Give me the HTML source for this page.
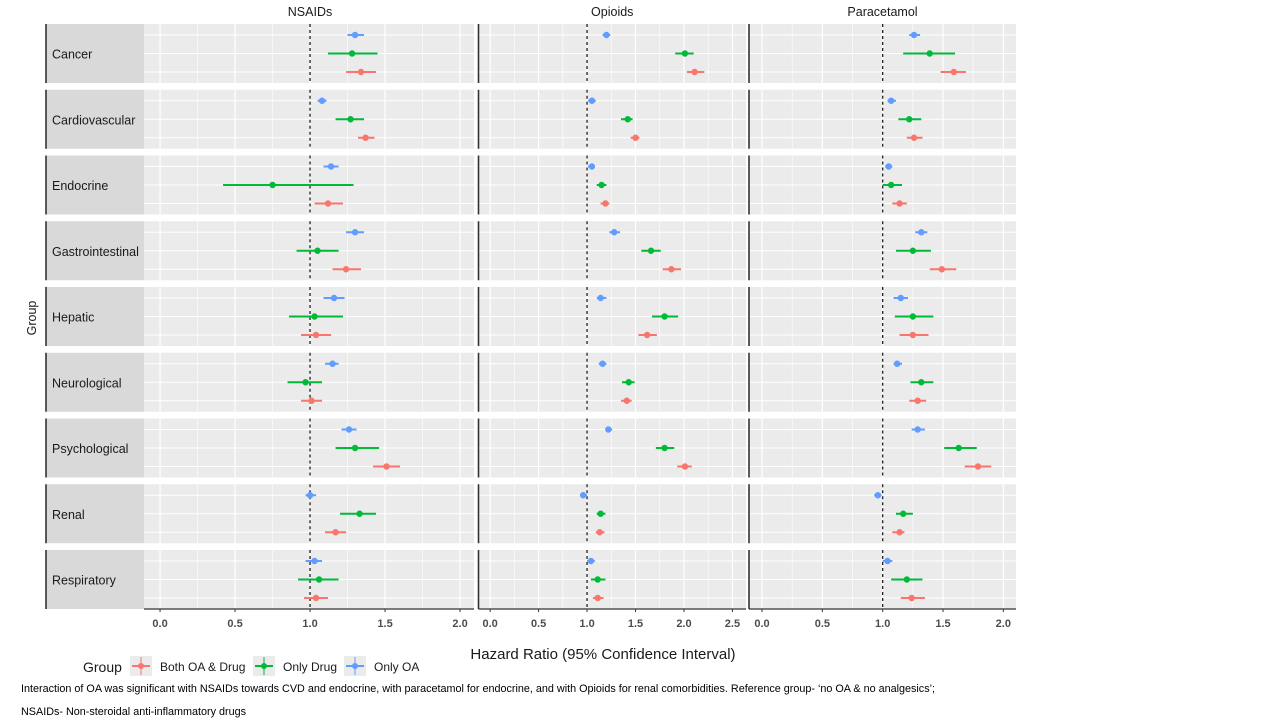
<!DOCTYPE html>
<html><head><meta charset="utf-8"><style>
html,body{margin:0;padding:0;background:#fff;}
svg{display:block;font-family:"Liberation Sans",Arial,sans-serif;}
</style></head><body>
<svg id="chart" width="1280" height="720" viewBox="0 0 1280 720" xmlns="http://www.w3.org/2000/svg"></svg>
<script>
const conditions = ["Cancer","Cardiovascular","Endocrine","Gastrointestinal","Hepatic","Neurological","Psychological","Renal","Respiratory"];
const drugs = ["NSAIDs","Opioids","Paracetamol"];
const groups = ["Only OA","Only Drug","Both OA & Drug"];
const groupColors = ["#619CFF","#00BA38","#F8766D"];
// [est, lo, hi] per condition for each group (Only OA, Only Drug, Both)
const nsaidsOnlyOA = [[1.30,1.25,1.36],[1.08,1.05,1.11],[1.14,1.09,1.19],[1.30,1.24,1.36],[1.16,1.09,1.23],[1.15,1.10,1.19],[1.26,1.21,1.31],[1.00,0.97,1.04],[1.03,0.97,1.08]];
const nsaidsOnlyDrug = [[1.28,1.12,1.45],[1.27,1.17,1.36],[0.75,0.42,1.29],[1.05,0.91,1.19],[1.03,0.86,1.22],[0.97,0.85,1.08],[1.30,1.17,1.46],[1.33,1.20,1.44],[1.06,0.92,1.19]];
const nsaidsBoth = [[1.34,1.24,1.44],[1.37,1.32,1.43],[1.12,1.03,1.22],[1.24,1.15,1.34],[1.04,0.94,1.14],[1.01,0.94,1.08],[1.51,1.42,1.60],[1.17,1.10,1.24],[1.04,0.96,1.12]];
const opioidsOnlyOA = [[1.20,1.16,1.24],[1.05,1.01,1.09],[1.05,1.01,1.08],[1.28,1.23,1.34],[1.14,1.10,1.20],[1.16,1.12,1.20],[1.22,1.19,1.26],[0.96,0.93,1.00],[1.04,1.00,1.08]];
const opioidsOnlyDrug = [[2.01,1.91,2.10],[1.42,1.35,1.47],[1.15,1.10,1.20],[1.66,1.56,1.76],[1.80,1.67,1.94],[1.43,1.36,1.49],[1.80,1.71,1.90],[1.14,1.10,1.19],[1.11,1.04,1.19]];
const opioidsBoth = [[2.11,2.03,2.21],[1.50,1.45,1.54],[1.19,1.14,1.23],[1.87,1.78,1.97],[1.62,1.53,1.72],[1.41,1.35,1.46],[2.01,1.93,2.08],[1.13,1.09,1.18],[1.11,1.06,1.17]];
const paraOnlyOA = [[1.26,1.22,1.31],[1.07,1.04,1.11],[1.05,1.02,1.08],[1.32,1.27,1.37],[1.15,1.09,1.21],[1.12,1.09,1.16],[1.29,1.24,1.35],[0.96,0.93,0.99],[1.04,1.00,1.08]];
const paraOnlyDrug = [[1.39,1.17,1.60],[1.22,1.13,1.32],[1.07,1.00,1.16],[1.25,1.11,1.40],[1.25,1.10,1.42],[1.32,1.23,1.42],[1.63,1.51,1.78],[1.17,1.11,1.25],[1.20,1.07,1.33]];
const paraBoth = [[1.59,1.48,1.69],[1.26,1.20,1.33],[1.14,1.08,1.20],[1.49,1.39,1.61],[1.25,1.14,1.38],[1.29,1.22,1.36],[1.79,1.68,1.90],[1.14,1.08,1.18],[1.24,1.15,1.35]];
const seriesByDrug = [[nsaidsOnlyOA,nsaidsOnlyDrug,nsaidsBoth],[opioidsOnlyOA,opioidsOnlyDrug,opioidsBoth],[paraOnlyOA,paraOnlyDrug,paraBoth]];
const tickSets = [[0,0.5,1,1.5,2],[0,0.5,1,1.5,2,2.5],[0,0.5,1,1.5,2]];
const tickLabelSets = [["0.0","0.5","1.0","1.5","2.0"],["0.0","0.5","1.0","1.5","2.0","2.5"],["0.0","0.5","1.0","1.5","2.0"]];
const domains = [[-0.107,2.093],[-0.12,2.64],[-0.108,2.105]];

const NS="http://www.w3.org/2000/svg";
const svg=document.getElementById('chart');
function mk(tag,attrs,parent,text){const e=document.createElementNS(NS,tag);for(const k in attrs)e.setAttribute(k,attrs[k]);if(text!==undefined)e.textContent=text;(parent||svg).appendChild(e);return e;}

const panels=[{x0:144,x1:474},{x0:478.5,x1:746},{x0:749,x1:1016}];
const rowTop=24,rowPitch=65.75,rowH=59;
const bandY=[11,29.5,48];
function xScale(p,v){const d=domains[p];const P=panels[p];return P.x0+(v-d[0])/(d[1]-d[0])*(P.x1-P.x0);}

conditions.forEach((c,i)=>{
  const y=rowTop+i*rowPitch;
  const g=mk('g',{},svg);
  
  
  mk('rect',{x:46,y:y,width:98,height:rowH,fill:'#d9d9d9'},g);
  mk('text',{x:52,y:y+rowH/2+5,'font-size':12.5,fill:'#1a1a1a'},g,c);
  mk('line',{x1:46,x2:46,y1:y,y2:y+rowH,stroke:'#333',"stroke-width":1.6},g);
});

drugs.forEach((dname,p)=>{
  const P=panels[p];
  const t=mk('text',{x:(p==0?310:(P.x0+P.x1)/2),y:16,'font-size':12.5,'text-anchor':'middle',fill:'#1a1a1a'},svg,dname);
  
  
  const minor=[];for(let v=0;v<=domains[p][1];v+=0.25)minor.push(v);
  conditions.forEach((c,i)=>{
    const y=rowTop+i*rowPitch;
    const g=mk('g',{},svg);
    
    
    mk('rect',{x:P.x0,y:y,width:P.x1-P.x0,height:rowH,fill:'#ebebeb'},g);
    minor.forEach(v=>{const x=xScale(p,v);mk('line',{x1:x,x2:x,y1:y,y2:y+rowH,stroke:'#fff','stroke-width':(Math.abs(v*2-Math.round(v*2))<1e-6)?1.2:0.6},g);});
    bandY.forEach(b=>mk('line',{x1:P.x0,x2:P.x1,y1:y+b,y2:y+b,stroke:'#fff','stroke-width':1.1},g));
    const xr=xScale(p,1);
    mk('line',{x1:xr,x2:xr,y1:y,y2:y+rowH,stroke:'#222','stroke-width':1.3,'stroke-dasharray':'3,3'},g);
    if(p>0)mk('line',{x1:P.x0,x2:P.x0,y1:y,y2:y+rowH,stroke:'#333','stroke-width':1.6},g);
    groups.forEach((gr,k)=>{
      const d=seriesByDrug[p][k][i];
      const yy=y+bandY[k];
      const m=mk('g',{},g);
      
      
      mk('line',{x1:xScale(p,d[1]),x2:xScale(p,d[2]),y1:yy,y2:yy,stroke:groupColors[k],'stroke-width':2},m);
      mk('circle',{cx:xScale(p,d[0]),cy:yy,r:3.2,fill:groupColors[k]},m);
    });
  });
  const ax=mk('g',{},svg);
  
  
  mk('line',{x1:P.x0,x2:P.x1,y1:609,y2:609,stroke:'#333','stroke-width':1.3},ax);
  tickSets[p].forEach((v,j)=>{const x=xScale(p,v);
    mk('line',{x1:x,x2:x,y1:609,y2:612,stroke:'#333','stroke-width':1},ax);
    mk('text',{x:x,y:627,'font-size':11,'font-weight':'bold','text-anchor':'middle',fill:'#4d4d4d'},ax,tickLabelSets[p][j]);});
});

const yt=mk('text',{x:0,y:0,'font-size':12.5,'text-anchor':'middle',fill:'#1a1a1a',transform:'translate(36,318) rotate(-90)'},svg,'Group');

const xt=mk('text',{x:603,y:659,'font-size':15,'text-anchor':'middle',fill:'#1a1a1a'},svg,'Hazard Ratio (95% Confidence Interval)');


const lg=mk('g',{},svg);

mk('text',{x:83,y:672,'font-size':14,fill:'#1a1a1a'},lg,'Group');
const legItems=[{x:130,lab:'Both OA & Drug',c:'#F8766D'},{x:253,lab:'Only Drug',c:'#00BA38'},{x:344,lab:'Only OA',c:'#619CFF'}];
legItems.forEach(it=>{
  const e=mk('g',{},lg);
  
  mk('rect',{x:it.x,y:656,width:22,height:20,fill:'#ebebeb'},e);
  mk('line',{x1:it.x+2,x2:it.x+20,y1:666,y2:666,stroke:it.c,'stroke-width':2},e);
  mk('line',{x1:it.x+11,x2:it.x+11,y1:657,y2:675,stroke:it.c,'stroke-width':1},e);
  mk('circle',{cx:it.x+11,cy:666,r:3,fill:it.c},e);
  mk('text',{x:it.x+30,y:671,'font-size':12,fill:'#1a1a1a'},e,it.lab);
});
const c1=mk('text',{x:21,y:692,'font-size':10.8,fill:'#000'},svg,"Interaction of OA was significant with NSAIDs towards CVD and endocrine, with paracetamol for endocrine, and with Opioids for renal comorbidities. Reference group- \u2018no OA & no analgesics\u2019;");

const c2=mk('text',{x:21,y:715,'font-size':10.8,fill:'#000'},svg,"NSAIDs- Non-steroidal anti-inflammatory drugs");

</script>
</body></html>
